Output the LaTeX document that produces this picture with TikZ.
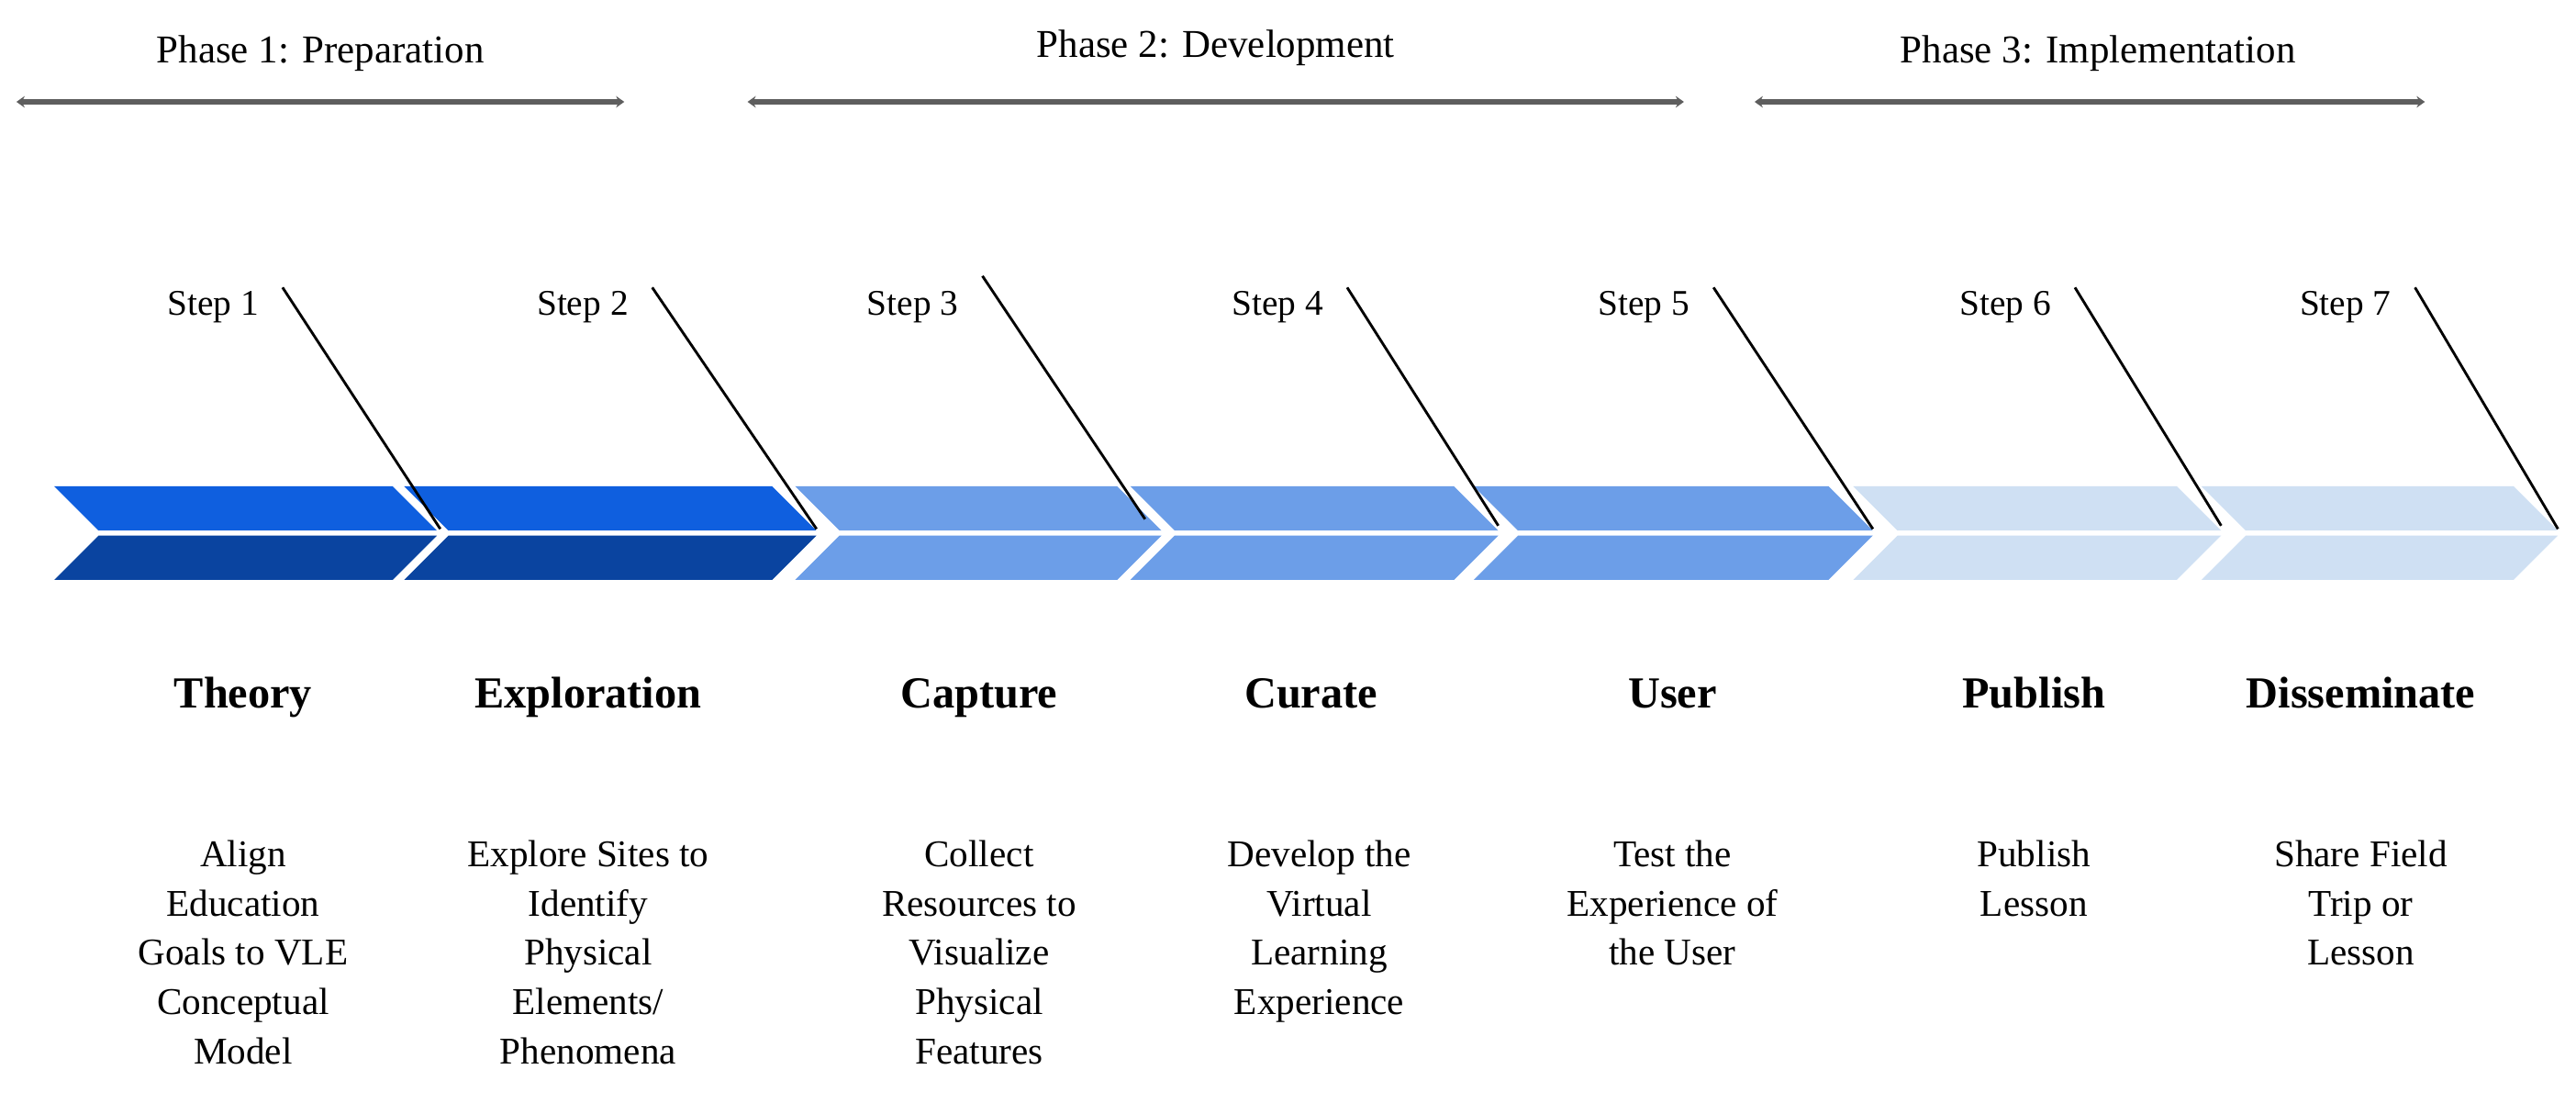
\documentclass[tikz,border=0pt]{standalone}
\usepackage{fontspec}
\setmainfont{Liberation Serif}
\usetikzlibrary{arrows.meta}
\definecolor{dA}{HTML}{0F5FDF}
\definecolor{dB}{HTML}{0A44A0}
\definecolor{mA}{HTML}{6C9EE8}
\definecolor{lA}{HTML}{CFE0F3}
\definecolor{ph}{HTML}{5E5E5E}
\begin{document}
\begin{tikzpicture}[x=1pt,y=-1pt,
  phase/.style={draw=ph,line width=3.5pt,{Stealth[length=5pt,width=7pt]}-{Stealth[length=5pt,width=7pt]}},
  ptext/.style={font=\fontsize{24}{28}\selectfont,anchor=base},
  stxt/.style={font=\fontsize{22}{26}\selectfont,anchor=base},
  ttl/.style={font=\fontsize{27}{30}\selectfont\bfseries,anchor=base},
  desc/.style={font=\fontsize{23}{30}\selectfont,align=center,anchor=north},
  sline/.style={line width=1.6pt}]
\useasboundingbox (0,0) rectangle (1568,678);
% phases
\coordinate (p1a) at (10,62); \coordinate (p1b) at (380,62);
\coordinate (p2a) at (455,62); \coordinate (p2b) at (1025,62);
\coordinate (p3a) at (1068,62); \coordinate (p3b) at (1476,62);
\draw[phase] (p1a) -- (p1b);
\draw[phase] (p2a) -- (p2b);
\draw[phase] (p3a) -- (p3b);
\node[ptext] (ph1) at (195,38) {Phase 1: Preparation};
\node[ptext] (ph2) at (740,35) {Phase 2: Development};
\node[ptext] (ph3) at (1277,38) {Phase 3: Implementation};
% chevrons
\def\dep{27}
\foreach \l/\r/\cu/\cl [count=\i] in {33/239/dA/dB,246/470/dA/dB,484/680/mA/mA,688/885/mA/mA,897/1113/mA/mA,1128/1325/lA/lA,1340/1530/lA/lA}{
  \fill[\cu] (\l,296) -- (\r,296) -- (\r+\dep,323) -- (\l+\dep,323) -- cycle;
  \fill[\cl] (\l+\dep,326) -- (\r+\dep,326) -- (\r,353) -- (\l,353) -- cycle;
}
% step lines and labels
\foreach \x/\y/\xx/\yy [count=\i] in {172/175/268/322,397/175/497/322,598/168/697/316,820/175/912/320,1043/175/1140/322,1263/175/1352/320,1470/175/1557/322}{
  \coordinate (s\i a) at (\x,\y); \coordinate (s\i b) at (\xx,\yy);
  \draw[sline] (s\i a) -- (s\i b);
  \node[stxt,anchor=base east] (st\i) at (\x-11,192) {Step \i};
}
% titles
\node[ttl] (t1) at (148,431) {Theory};
\node[ttl] (t2) at (358,431) {Exploration};
\node[ttl] (t3) at (596,431) {Capture};
\node[ttl] (t4) at (798,431) {Curate};
\node[ttl] (t5) at (1018,431) {User};
\node[ttl] (t6) at (1238,431) {Publish};
\node[ttl] (t7) at (1437,431) {Disseminate};
% descriptions
\node[desc] (d1) at (148,508) {Align\\Education\\Goals to VLE\\Conceptual\\Model};
\node[desc] (d2) at (358,508) {Explore Sites to\\Identify\\Physical\\Elements/\\Phenomena};
\node[desc] (d3) at (596,508) {Collect\\Resources to\\Visualize\\Physical\\Features};
\node[desc] (d4) at (803,508) {Develop the\\Virtual\\Learning\\Experience};
\node[desc] (d5) at (1018,508) {Test the\\Experience of\\the User};
\node[desc] (d6) at (1238,508) {Publish\\Lesson};
\node[desc] (d7) at (1437,508) {Share Field\\Trip or\\Lesson};
\end{tikzpicture}
\end{document}
